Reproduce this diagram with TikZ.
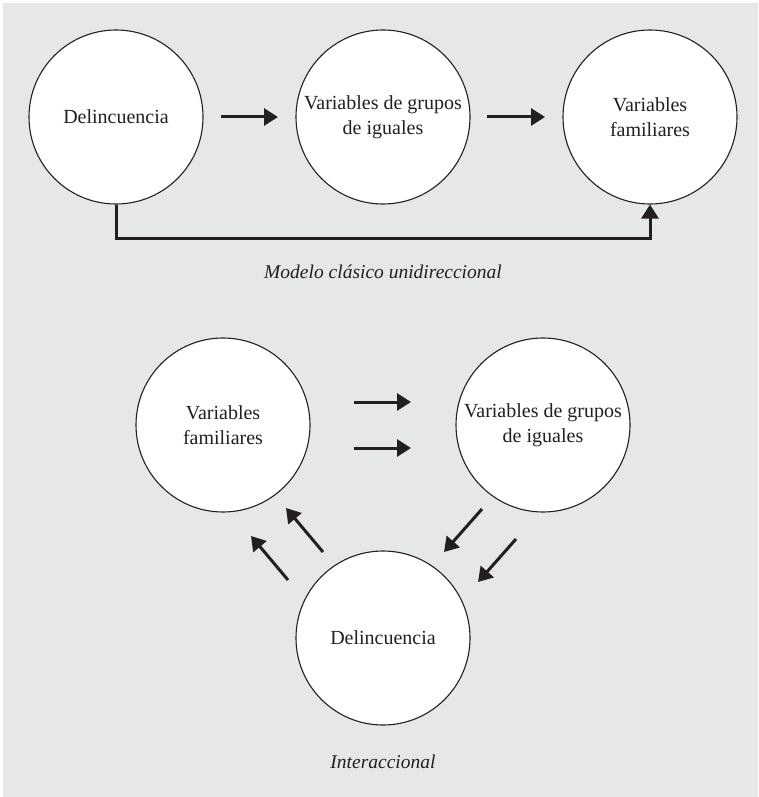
\documentclass[tikz,border=0pt]{standalone}
\usepackage{fontspec}
\setmainfont{Liberation Serif}
\usetikzlibrary{arrows.meta,calc}
\definecolor{bgc}{RGB}{230,231,233}
\definecolor{ink}{RGB}{35,31,32}
\begin{document}
\begin{tikzpicture}[x=1pt,y=-1pt,
  circ/.style={circle,draw=ink,fill=white,line width=1.1pt,minimum size=174pt,inner sep=0pt,
    align=center,text=ink,font=\fontsize{20}{25}\selectfont},
  arr/.style={draw=ink,line width=3pt,-{Triangle[length=14pt,width=17pt]}},
  captext/.style={text=ink,font=\fontsize{19.5}{22}\selectfont\itshape,anchor=base}]
\useasboundingbox (0,0) rectangle (758,797);
\fill[bgc] (3,3) rectangle (758,797);
% top row
\node[circ] (dl) at (116,117) {Delincuencia};
\node[circ] (vg) at (383,117) {Variables de grupos\\de iguales};
\node[circ] (vf) at (650,117) {Variables\\familiares};
\draw[arr] ($(dl)+(105,0)$) -- ($(vg)+(-105,0)$);
\draw[arr] ($(vg)+(104,0)$) -- ($(vf)+(-105,0)$);
\coordinate (base) at (0,238);
\draw[arr,line join=miter] (dl.south) -- (dl.south |- base) -| (vf.south);
\node[captext] (c1) at (383,278) {Modelo clásico unidireccional};
% bottom
\node[circ] (fam) at (223,425) {Variables\\familiares};
\node[circ] (grp) at (543,425) {Variables de grupos\\de iguales};
\node[circ] (del) at (383,638) {Delincuencia};
\draw[arr] ($(fam)+(131,-23)$) -- ($(grp)+(-132,-23)$);
\draw[arr] ($(fam)+(131,23)$) -- ($(grp)+(-132,23)$);
\draw[arr] ($(grp)+(-61,84)$) -- ($(del)+(61,-86)$);
\draw[arr] ($(grp)+(-27,114)$) -- ($(del)+(95,-56)$);
\draw[arr] ($(del)+(-95,-58)$) -- ($(fam)+(28,111)$);
\draw[arr] ($(del)+(-60,-86)$) -- ($(fam)+(63,83)$);
\node[captext] (c2) at (383,768) {Interaccional};
\end{tikzpicture}
\end{document}
